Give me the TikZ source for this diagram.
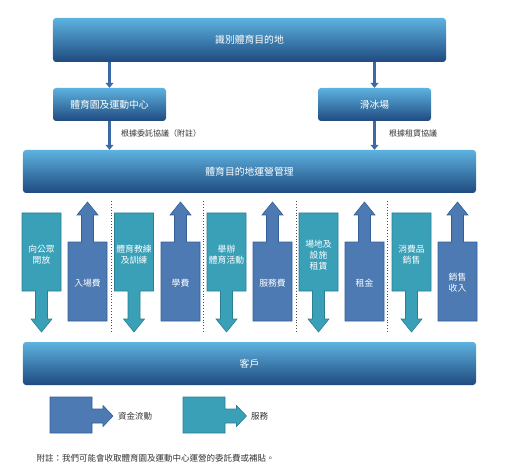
\documentclass[tikz,border=0pt]{standalone}
\usepackage{fontspec}
\newfontfamily\cjk{Noto Sans CJK TC}
\usetikzlibrary{arrows.meta,calc}
\definecolor{gtop}{HTML}{5DB2E0}
\definecolor{gbot}{HTML}{1F4A7F}
\definecolor{tealf}{HTML}{3AA0B8}
\definecolor{tealb}{HTML}{2A7F95}
\definecolor{bluef}{HTML}{4D7AB2}
\definecolor{blueb}{HTML}{335E98}
\definecolor{conn}{HTML}{3D68A6}
\definecolor{txt}{HTML}{333333}
\begin{document}
\begin{tikzpicture}[x=1bp,y=-1bp,
  gbox/.style={rounded corners=3bp,top color=gtop,bottom color=gbot,
    text=white,font=\cjk\fontsize{9.8bp}{11bp}\selectfont,inner sep=0pt},
  connarrow/.style={draw=conn,line width=2.6bp,-{Triangle[width=8bp,length=5bp]}},
  lbl/.style={text=txt,font=\cjk\fontsize{8bp}{9.5bp}\selectfont,inner sep=0pt},
  coltext/.style={text=white,font=\cjk\fontsize{8.8bp}{10.8bp}\selectfont,align=center,inner sep=0pt},
  svcshape/.style={fill=tealf,draw=tealb,line width=0.6bp},
  payshape/.style={fill=bluef,draw=blueb,line width=0.6bp},
  sep/.style={draw=black!70,dotted,line width=0.9bp}]
\useasboundingbox (0,0) rectangle (508,472);
% top-level boxes
\node[gbox,minimum width=393bp,minimum height=44bp] (top) at (249.5,40) {識別體育目的地};
\node[gbox,minimum width=113bp,minimum height=33bp] (park) at (109.5,104.5) {體育園及運動中心};
\node[gbox,minimum width=113bp,minimum height=33bp] (ice) at (374.5,104.5) {滑冰場};
\node[gbox,minimum width=453bp,minimum height=43bp] (mgmt) at (249.5,171.5) {體育目的地運營管理};
\node[gbox,minimum width=453bp,minimum height=43bp] (cust) at (249.5,363.5) {客戶};
% connectors
\draw[connarrow] (top.south -| park) -- (park.north);
\draw[connarrow] (top.south -| ice) -- (ice.north);
\draw[connarrow] (park.south) -- (mgmt.north -| park);
\draw[connarrow] (ice.south) -- (mgmt.north -| ice);
\node[lbl,anchor=west] (lbla) at (121,133) {根據委託協議（附註）};
\node[lbl,anchor=west] (lblb) at (389,133) {根據租賃協議};
% columns
\foreach \T/\B/\S/\P [count=\i] in {
  22/68/{向公眾\\開放}/{入場費},
  114.5/161/{體育教練\\及訓練}/{學費},
  207/253/{舉辦\\體育活動}/{服務費},
  299/345/{場地及\\設施\\租賃}/{租金},
  392/438/{消費品\\銷售}/{銷售\\收入}}{
  \pgfmathsetmacro{\c}{\T+19.5}
  \pgfmathsetmacro{\d}{\B+19.5}
  \draw[svcshape] (\T,213) -- (\T+39,213) -- (\T+39,291) -- (\c+6,291) -- (\c+6,319)
     -- (\c+10.5,319) -- (\c,332) -- (\c-10.5,319) -- (\c-6,319) -- (\c-6,291) -- (\T,291) -- cycle;
  \node[coltext] (svc\i) at (\c,255) {\S};
  \draw[payshape] (\B,242) -- (\B,321) -- (\B+39,321) -- (\B+39,242) -- (\d+6,242) -- (\d+6,215)
     -- (\d+10.5,215) -- (\d,202) -- (\d-10.5,215) -- (\d-6,215) -- (\d-6,242) -- cycle;
  \node[coltext] (pay\i) at (\d,283) {\P};
}
\foreach \x [count=\j] in {111,203.5,296,387.5}{
  \coordinate (sa\j) at (\x,201);
  \coordinate (sb\j) at (\x,333);
  \draw[sep] (sa\j) -- (sb\j);
}
% legend
\draw[payshape] (50,397) -- (92,397) -- (92,409) -- (103,409) -- (103,405.5) -- (113,416)
  -- (103,426.5) -- (103,423) -- (92,423) -- (92,433) -- (50,433) -- cycle;
\node[lbl,anchor=west,font=\cjk\fontsize{8.5bp}{10bp}\selectfont] (leg1) at (118,416.5) {資金流動};
\draw[svcshape] (183,397) -- (225,397) -- (225,409) -- (236.5,409) -- (236.5,405.5) -- (246.5,416)
  -- (236.5,426.5) -- (236.5,423) -- (225,423) -- (225,433) -- (183,433) -- cycle;
\node[lbl,anchor=west,font=\cjk\fontsize{8.5bp}{10bp}\selectfont] (leg2) at (251,416.5) {服務};
% footnote
\node[lbl,anchor=west,font=\cjk\fontsize{8.5bp}{10bp}\selectfont] (note) at (36.5,458) {附註：我們可能會收取體育園及運動中心運營的委託費或補貼。};
\end{tikzpicture}
\end{document}
